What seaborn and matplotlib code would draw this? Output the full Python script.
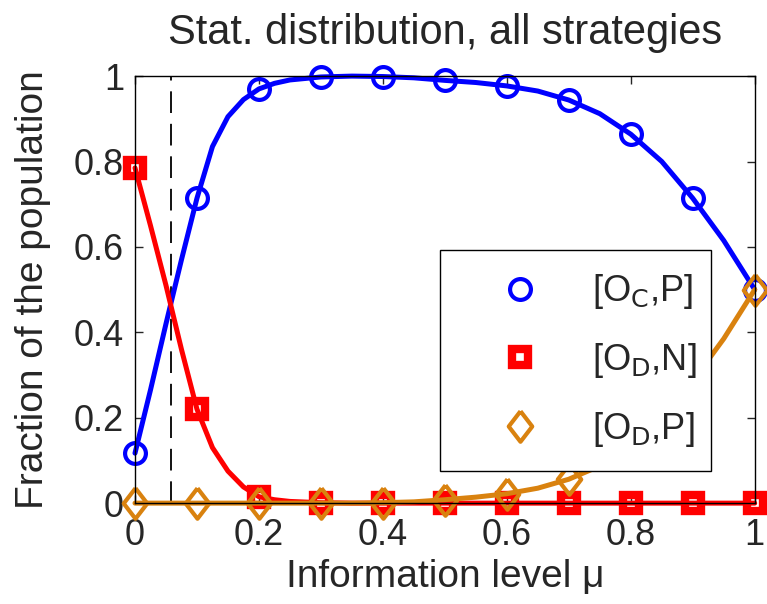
import numpy as np
import matplotlib
matplotlib.use("Agg")
import matplotlib.pyplot as plt
from matplotlib.lines import Line2D
import seaborn as sns

# curve values
mu_curve = [0.0, 0.025, 0.05, 0.075, 0.1, 0.125, 0.15, 0.175, 0.2, 0.225, 0.25, 0.3, 0.35,
            0.4, 0.45, 0.5, 0.55, 0.6, 0.65, 0.7, 0.75, 0.8, 0.85, 0.9, 0.95, 1.0]
oc_p_curve = [0.117, 0.265, 0.42, 0.57, 0.714, 0.835, 0.905, 0.945, 0.97, 0.983, 0.991,
              0.998, 1.0, 0.999, 0.996, 0.99, 0.985, 0.977, 0.965, 0.944, 0.912, 0.864,
              0.8, 0.714, 0.615, 0.5]
od_n_curve = [0.785, 0.65, 0.51, 0.36, 0.22, 0.13, 0.075, 0.038, 0.015, 0.008, 0.004,
              0.001, 0.0, 0.0, 0.0, 0.0, 0.0, 0.0, 0.0, 0.0, 0.0, 0.0, 0.0, 0.0, 0.0, 0.0]
od_p_curve = [0.0, 0.0, 0.0, 0.0, 0.0, 0.0, 0.0, 0.0, 0.0, 0.0, 0.0, 0.0, 0.0,
              0.001, 0.003, 0.008, 0.014, 0.022, 0.035, 0.056, 0.087, 0.136, 0.2,
              0.286, 0.385, 0.5]

# marker values (step 0.1)
mu_marks = [0.0, 0.1, 0.2, 0.3, 0.4, 0.5, 0.6, 0.7, 0.8, 0.9, 1.0]
oc_p_marks = [0.117, 0.714, 0.97, 0.998, 0.999, 0.99, 0.977, 0.944, 0.864, 0.714, 0.5]
od_n_marks = [0.785, 0.22, 0.015, 0.001, 0.0, 0.0, 0.0, 0.0, 0.0, 0.0, 0.0]
od_p_marks = [0.0, 0.0, 0.0, 0.0, 0.001, 0.008, 0.022, 0.056, 0.136, 0.286, 0.5]

mu_threshold = 0.058

labels = ["[O$_\\mathrm{C}$,P]", "[O$_\\mathrm{D}$,N]", "[O$_\\mathrm{D}$,P]"]
colors = ["#0000FF", "#FF0000", "#D9820F"]
# matlab-like diamond is a bit narrower than it is tall
diamond = [(0, 1), (0.77, 0), (0, -1), (-0.77, 0), (0, 1)]
markers = ["o", "s", diamond]
msizes = [15, 12, 22]
medges = [3.0, 6.0, 3.0]

sns.set_style("white")
plt.rcParams["font.family"] = ["Liberation Sans", "DejaVu Sans"]
plt.rcParams["mathtext.default"] = "regular"

fig = plt.figure(figsize=(7.67, 6.04), dpi=100)
ax = fig.add_axes([0.176, 0.167, 0.808, 0.707])

curves = [oc_p_curve, od_n_curve, od_p_curve]
marks = [oc_p_marks, od_n_marks, od_p_marks]
for yc, ym, c, m, ms, mew in zip(curves, marks, colors, markers, msizes, medges):
    sns.lineplot(x=mu_curve, y=yc, color=c, linewidth=3.6, ax=ax, clip_on=False)
    sns.lineplot(x=mu_marks, y=ym, color=c, linestyle="", marker=m,
                 markersize=ms, markerfacecolor="none", markeredgecolor=c,
                 markeredgewidth=mew, ax=ax, clip_on=False)

ax.axvline(mu_threshold, color="black", linestyle=(0, (12, 6)), linewidth=1.3, zorder=0)

ax.set_xlim(0, 1)
ax.set_ylim(0, 1)
ax.set_xticks([0, 0.2, 0.4, 0.6, 0.8, 1])
ax.set_xticklabels(["0", "0.2", "0.4", "0.6", "0.8", "1"])
ax.set_yticks([0, 0.2, 0.4, 0.6, 0.8, 1])
ax.set_yticklabels(["0", "0.2", "0.4", "0.6", "0.8", "1"])
ax.tick_params(direction="in", length=6, width=1, labelsize=26, top=True, right=True,
               bottom=True, left=True)
ax.tick_params(axis="x", pad=11)
ax.tick_params(axis="y", pad=8)
for s in ax.spines.values():
    s.set_color("black")
    s.set_linewidth(1)

ax.set_xlabel("Information level μ", fontsize=28, labelpad=4)
ax.set_ylabel("Fraction of the population", fontsize=28, labelpad=16)
ax.set_title("Stat. distribution, all strategies", fontsize=30, pad=23)

handles = [Line2D([], [], linestyle="", marker=m, markersize=ms, markerfacecolor="none",
                  markeredgecolor=c, markeredgewidth=mew)
           for c, m, ms, mew in zip(colors, markers, msizes, medges)]
leg = ax.legend(handles, labels, loc="upper left", bbox_to_anchor=(0.492, 0.593, 0.438, 0),
                mode="expand", fontsize=26, frameon=True, fancybox=False, edgecolor="black",
                framealpha=1, borderpad=0.62, labelspacing=0.82, handlelength=3.2,
                handletextpad=0.38, borderaxespad=0)
leg.get_frame().set_linewidth(1)

fig.savefig("out.png", dpi=100)
